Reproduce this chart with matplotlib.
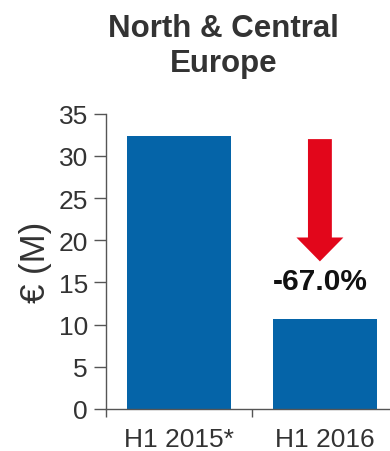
import matplotlib
matplotlib.use('Agg')
import matplotlib.pyplot as plt

# data
categories = ['H1 2015*', 'H1 2016']
values = [32.4, 10.7]
change_label = '-67.0%'
title = 'North & Central\nEurope'
ylab = '€ (M)'

plt.rcParams['font.family'] = ['Liberation Sans', 'DejaVu Sans']

fig = plt.figure(figsize=(3.9, 4.52), dpi=100)
ax = fig.add_axes([0.272, 0.093, 0.748, 0.653])

x = list(range(len(categories)))
ax.bar(x, values, width=0.71, color='#0564A8')

ax.set_xlim(-0.5, 1.5)
ax.set_ylim(0, 35)
ax.set_yticks(range(0, 36, 5))
ax.set_xticks(x)
ax.set_xticklabels(categories)
ax.set_xticks([-0.5, 0.5, 1.5], minor=True)
ax.tick_params(axis='x', which='major', length=0, pad=13, labelsize=19, labelcolor='#333333')
ax.tick_params(axis='x', which='minor', length=6, width=1, color='#555555', direction='out')
ax.tick_params(axis='y', length=9, width=1, color='#555555', direction='out', pad=4,
               labelsize=19, labelcolor='#333333')

for s in ['top', 'right']:
    ax.spines[s].set_visible(False)
for s in ['left', 'bottom']:
    ax.spines[s].set_color('#555555')
    ax.spines[s].set_linewidth(1)

ax.set_ylabel(ylab, fontsize=25, color='#333333', labelpad=5)

# red arrow showing the drop
ax.annotate('', xy=(0.966, 17.5), xytext=(0.966, 32.0),
            arrowprops=dict(arrowstyle='simple,tail_width=0.86,head_width=1.69,head_length=0.86',
                            mutation_scale=20, color='#E2061B', shrinkA=0, shrinkB=0, lw=0))
ax.text(0.966, 15.2, change_label, ha='center', va='center', fontsize=21.5,
        fontweight='bold', color='#111111')

fig.text(0.574, 0.968, title, ha='center', va='top', fontsize=22.5, fontweight='bold',
         color='#333333', linespacing=1.2)

fig.savefig('out.png', dpi=100)
